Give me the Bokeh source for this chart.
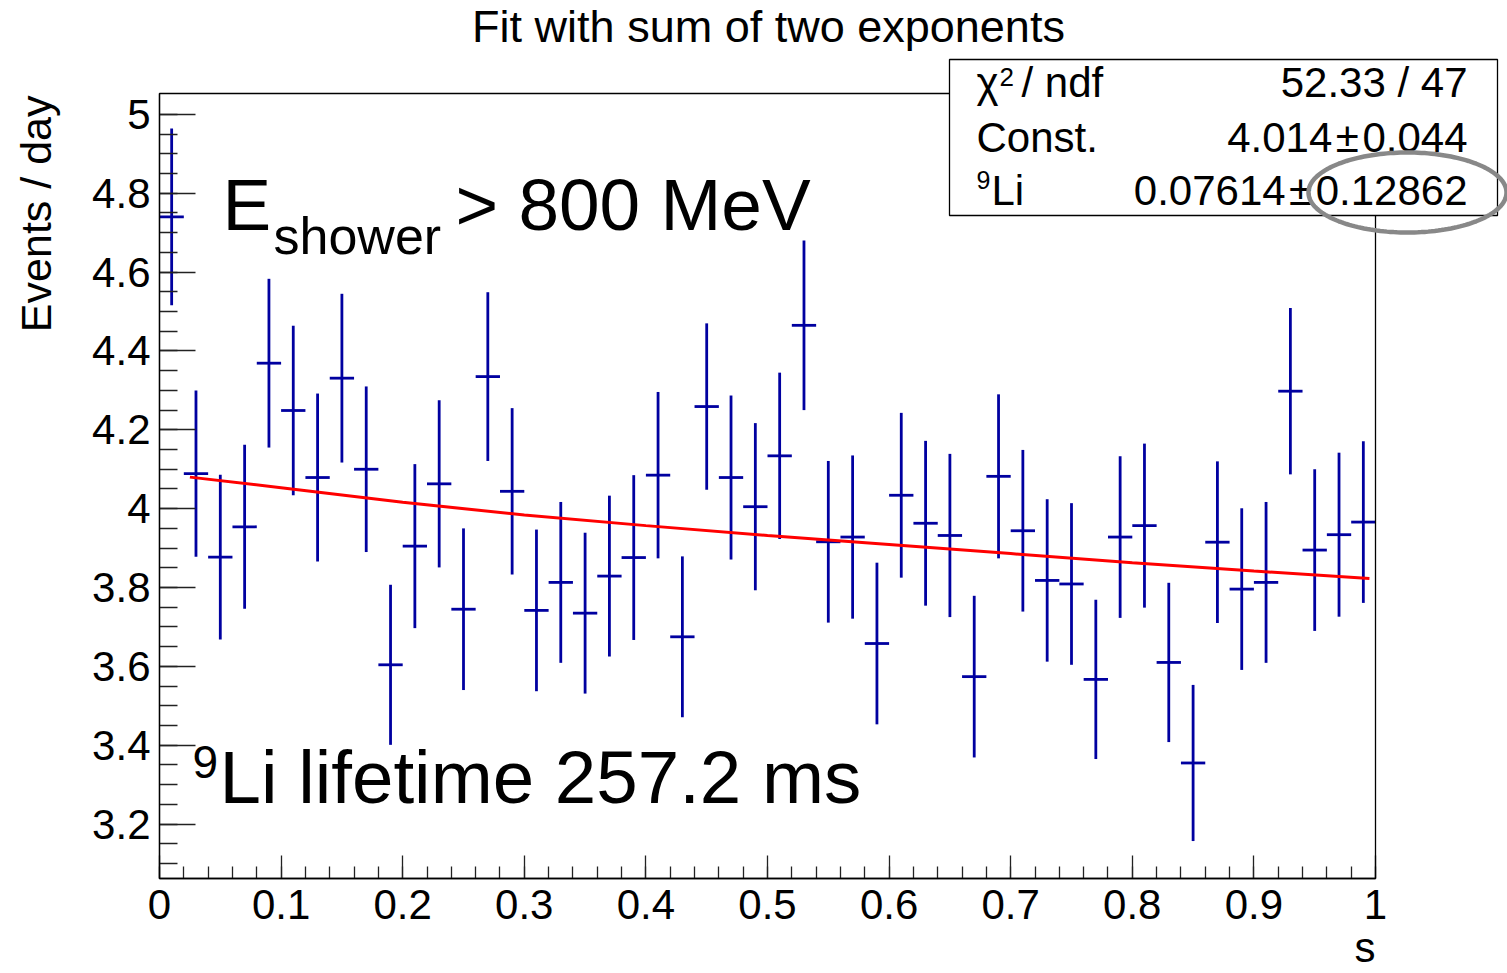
import numpy as np
from bokeh.plotting import figure
from bokeh.models import Label, BoxAnnotation, PolyAnnotation, FixedTicker, Range1d
from bokeh.embed import file_html
from bokeh.resources import INLINE

# ---------------- data ----------------
bin_low = 0.0
bin_width = 0.02
n_bins = 50

events_per_day = [
    4.740, 4.089, 3.877, 3.954, 4.369, 4.249, 4.079, 4.331, 4.100, 3.604,
    3.905, 4.063, 3.745, 4.335, 4.044, 3.742, 3.813, 3.735, 3.829, 3.876,
    4.085, 3.675, 4.259, 4.079, 4.005, 4.134, 4.465, 3.916, 3.928, 3.658,
    4.034, 3.963, 3.932, 3.574, 4.082, 3.944, 3.818, 3.809, 3.567, 3.928,
    3.957, 3.610, 3.355, 3.915, 3.796, 3.813, 4.298, 3.895, 3.934, 3.966,
]
errors = [
    0.224, 0.211, 0.209, 0.208, 0.214, 0.215, 0.213, 0.214, 0.210, 0.203,
    0.208, 0.212, 0.205, 0.214, 0.211, 0.205, 0.204, 0.204, 0.204, 0.209,
    0.211, 0.204, 0.211, 0.208, 0.212, 0.211, 0.215, 0.205, 0.207, 0.205,
    0.209, 0.209, 0.207, 0.205, 0.208, 0.205, 0.206, 0.205, 0.202, 0.205,
    0.208, 0.202, 0.198, 0.205, 0.205, 0.204, 0.211, 0.205, 0.208, 0.205,
]

fit_t = [0.025, 0.1, 0.2, 0.3, 0.4, 0.5, 0.6, 0.7, 0.8, 0.9, 0.995]
fit_val = [4.080, 4.053, 4.016, 3.984, 3.957, 3.932, 3.909, 3.886, 3.863, 3.842, 3.823]

x_ticks = [0.0, 0.1, 0.2, 0.3, 0.4, 0.5, 0.6, 0.7, 0.8, 0.9, 1.0]
x_tick_labels = ["0", "0.1", "0.2", "0.3", "0.4", "0.5", "0.6", "0.7", "0.8", "0.9", "1"]
y_ticks = [3.2, 3.4, 3.6, 3.8, 4.0, 4.2, 4.4, 4.6, 4.8, 5.0]
y_tick_labels = ["3.2", "3.4", "3.6", "3.8", "4", "4.2", "4.4", "4.6", "4.8", "5"]

title_text = "Fit with sum of two exponents"
x_title = "s"
y_title = "Events / day"

stat_names = ["\u03c7", "2", "/ ndf", "Const.", "9", "Li"]
stat_values = ["52.33 / 47", "4.014\u200a\u00b1\u200a0.044", "0.07614\u200a\u00b1\u200a0.12862"]

# ---------------- geometry ----------------
W, H = 1507, 973
FL, FR, FT, FB = 159, 1375, 93, 878      # visible data frame, canvas pixels
XMIN, XMAX = 0.0, 1.0
YMIN, YMAX = 3.062, 5.053
FONT = "Liberation Sans"
BASELINE_FIX = 0.355   # em shift so that the given pixel is the text baseline


def px2x(px):
    return XMIN + (np.asarray(px, dtype=float) - FL) / (FR - FL) * (XMAX - XMIN)


def py2y(py):
    return YMAX - (np.asarray(py, dtype=float) - FT) / (FB - FT) * (YMAX - YMIN)


# the Bokeh frame covers the whole canvas so nothing is clipped; the visible
# frame [0,1] x [YMIN,YMAX] sits at the same pixels as in the reference
p = figure(width=W, height=H,
           x_range=Range1d(float(px2x(0)), float(px2x(W))),
           y_range=Range1d(float(py2y(H)), float(py2y(0))),
           output_backend="svg", toolbar_location=None,
           min_border=0, min_border_left=0, min_border_right=0,
           min_border_top=0, min_border_bottom=0)
p.xgrid.visible = False
p.ygrid.visible = False
p.outline_line_color = None
p.background_fill_color = "white"
p.border_fill_color = "white"

# axes placed at the edges of the visible frame
xa = p.xaxis[0]
xa.fixed_location = YMIN
xa.bounds = (XMIN, XMAX)
xa.ticker = FixedTicker(ticks=x_ticks,
                        minor_ticks=[bin_low + i * bin_width for i in range(n_bins + 1)])
xa.major_label_overrides = {t: l for t, l in zip(x_ticks, x_tick_labels)}
xa.major_tick_in = 23
xa.major_tick_out = 0
xa.minor_tick_in = 12
xa.minor_tick_out = 0
xa.major_label_standoff = 11
ya = p.yaxis[0]
ya.fixed_location = XMIN
ya.bounds = (YMIN, YMAX)
ya.ticker = FixedTicker(ticks=y_ticks, minor_ticks=[3.1 + 0.05 * i for i in range(39)])
ya.major_label_overrides = {t: l for t, l in zip(y_ticks, y_tick_labels)}
ya.major_tick_in = 36
ya.major_tick_out = 0
ya.minor_tick_in = 18
ya.minor_tick_out = 0
ya.major_label_standoff = 9
for ax in (xa, ya):
    ax.axis_line_color = "black"
    ax.axis_line_width = 1.3
    ax.major_tick_line_color = "#222222"
    ax.minor_tick_line_color = "#222222"
    ax.major_tick_line_width = 1.3
    ax.minor_tick_line_width = 1.3
    ax.major_label_text_font = FONT
    ax.major_label_text_font_size = "42px"
    ax.major_label_text_color = "black"

# frame border
p.add_layout(BoxAnnotation(left=XMIN, right=XMAX, bottom=YMIN, top=YMAX,
                           fill_alpha=0, fill_color=None, line_color="black",
                           line_alpha=1.0, line_width=1.3))

# histogram with error bars
centers = [bin_low + (i + 0.5) * bin_width for i in range(n_bins)]
vals = np.array(events_per_day)
errs = np.array(errors)
cx = np.array(centers)
blue = "#0000a0"
p.segment(x0=cx, y0=vals - errs, x1=cx, y1=vals + errs, line_color=blue, line_width=2.8)
p.segment(x0=cx - bin_width / 2, y0=vals, x1=cx + bin_width / 2, y1=vals,
          line_color=blue, line_width=2.8)

# fit curve
p.line(fit_t, fit_val, line_color="#ff0000", line_width=3)


def add_label(text, px, py, size, align="left", angle=0.0, level="annotation"):
    shift = BASELINE_FIX * size
    if angle:
        px = px - shift
    else:
        py = py - shift
    p.add_layout(Label(x=float(px2x(px)), y=float(py2y(py)), text=text, text_font=FONT,
                       text_font_size=f"{size}px", text_align=align,
                       text_baseline="alphabetic", angle=angle, text_color="black",
                       level=level))


# title and axis titles
add_label(title_text, 768, 42, 45, align="center")
add_label(y_title, 51, 95, 43, align="right", angle=np.pi / 2)
add_label(x_title, 1375, 962, 42, align="right")

# in-plot annotations
add_label("E", 222, 230, 73)
add_label("shower", 273, 254, 52)
add_label("> 800 MeV", 455, 230, 73)
add_label("9", 192, 778, 46)
add_label("Li lifetime 257.2 ms", 219, 803, 74.5)

# statistics box
p.add_layout(BoxAnnotation(left=float(px2x(949)), right=float(px2x(1497)),
                           top=float(py2y(59)), bottom=float(py2y(215)),
                           fill_color="white", fill_alpha=1.0, line_color="black",
                           line_alpha=1.0, line_width=1.3, level="overlay"))
row_baselines = [97, 152, 205]
add_label(stat_names[0], 976, row_baselines[0], 42, level="overlay")
add_label(stat_names[1], 999, 86, 26, level="overlay")
add_label(stat_names[2], 1021, row_baselines[0], 42, level="overlay")
add_label(stat_names[3], 976, row_baselines[1], 42, level="overlay")
add_label(stat_names[4], 976, 188, 25, level="overlay")
add_label(stat_names[5], 991, row_baselines[2], 42, level="overlay")
for i, v in enumerate(stat_values):
    add_label(v, 1467, row_baselines[i], 42, align="right", level="overlay")

# grey highlight ellipse
th = np.linspace(0, 2 * np.pi, 181)
ecx, ecy, ea, eb = 1407, 192, 99, 40
p.add_layout(PolyAnnotation(xs=[float(v) for v in px2x(ecx + ea * np.cos(th))],
                            ys=[float(v) for v in py2y(ecy + eb * np.sin(th))],
                            fill_color=None, fill_alpha=0, line_color="#888888",
                            line_alpha=1.0, line_width=4.5, level="overlay"))

open("out.html", "w").write(file_html(p, INLINE))
